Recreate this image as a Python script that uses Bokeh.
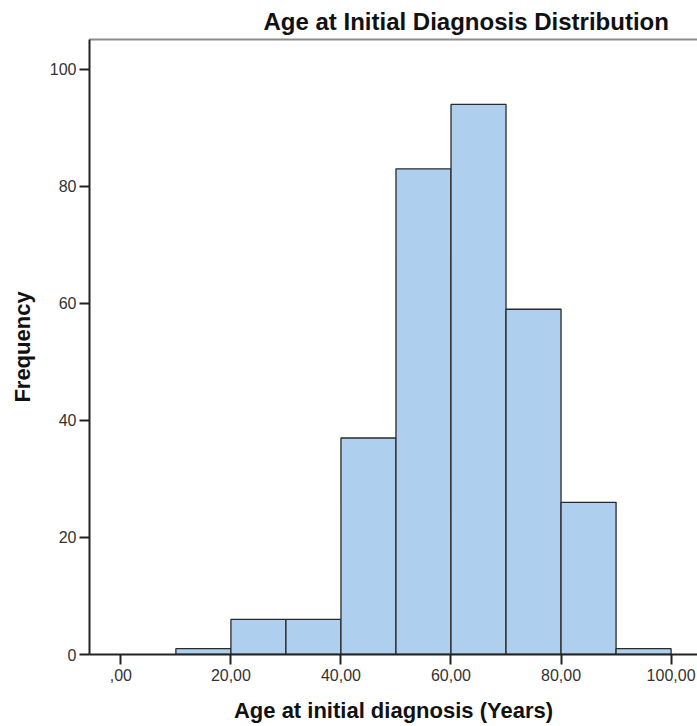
from bokeh.plotting import figure
from bokeh.models import Range1d, LinearAxis, FixedTicker, ColumnDataSource
from bokeh.embed import file_html
from bokeh.resources import INLINE

# Histogram bins (years) and frequencies
bin_left = [10, 20, 30, 40, 50, 60, 70, 80, 90]
bin_width = 10
counts = [1, 6, 6, 37, 83, 94, 59, 26, 1]

x_ticks = [0, 20, 40, 60, 80, 100]
x_tick_labels = [",00", "20,00", "40,00", "60,00", "80,00", "100,00"]
y_ticks = [0, 20, 40, 60, 80, 100]

FONT = "Liberation Sans"

source = ColumnDataSource(dict(
    left=bin_left,
    right=[b + bin_width for b in bin_left],
    top=counts,
    bottom=[0] * len(counts),
))

p = figure(
    width=697, height=726,
    x_range=Range1d(-5.7, 104.8), y_range=Range1d(0, 105.1),
    output_backend="svg", toolbar_location=None,
    min_border_left=89, min_border_right=0, min_border_top=39, min_border_bottom=72,
    background_fill_color="white", border_fill_color="white",
    title="Age at Initial Diagnosis Distribution",
)
p.outline_line_color = None
p.grid.visible = False

p.title.text_font = FONT
p.title.text_font_size = "24px"
p.title.text_font_style = "bold"
p.title.text_color = "#111111"
p.title.align = "left"
p.title.offset = 174
p.title.standoff = 10

p.quad(left="left", right="right", top="top", bottom="bottom", source=source,
       fill_color="#aecfee", line_color="#2a2a2a", line_width=1.3)

xa = p.below[0]
xa.ticker = FixedTicker(ticks=x_ticks)
xa.major_label_overrides = {t: l for t, l in zip(x_ticks, x_tick_labels)}
xa.axis_label = "Age at initial diagnosis (Years)"

ya = p.left[0]
ya.ticker = FixedTicker(ticks=y_ticks)
ya.axis_label = "Frequency"

for ax in (xa, ya):
    ax.axis_line_color = "#222222"
    ax.axis_line_width = 2
    ax.major_tick_line_color = "#222222"
    ax.major_tick_line_width = 2
    ax.major_tick_out = 10
    ax.major_tick_in = 0
    ax.minor_tick_line_color = None
    ax.major_label_text_font = FONT
    ax.major_label_text_font_size = "16px"
    ax.major_label_text_color = "#333333"
    ax.axis_label_text_font = FONT
    ax.axis_label_text_font_size = "22px"
    ax.axis_label_text_font_style = "bold"
    ax.axis_label_text_color = "#111111"

xa.major_label_standoff = 4
xa.axis_label_standoff = 14
ya.major_label_standoff = 3
ya.axis_label_standoff = 12

# thin grey frame line along the top of the plot area
top_axis = LinearAxis(ticker=FixedTicker(ticks=[]), axis_line_color="#8c8c8c",
                      axis_line_width=2, major_label_text_font_size="0px",
                      major_tick_line_color=None, minor_tick_line_color=None,
                      major_label_standoff=0)
p.add_layout(top_axis, "above")

open("out.html", "w").write(file_html(p, INLINE))
